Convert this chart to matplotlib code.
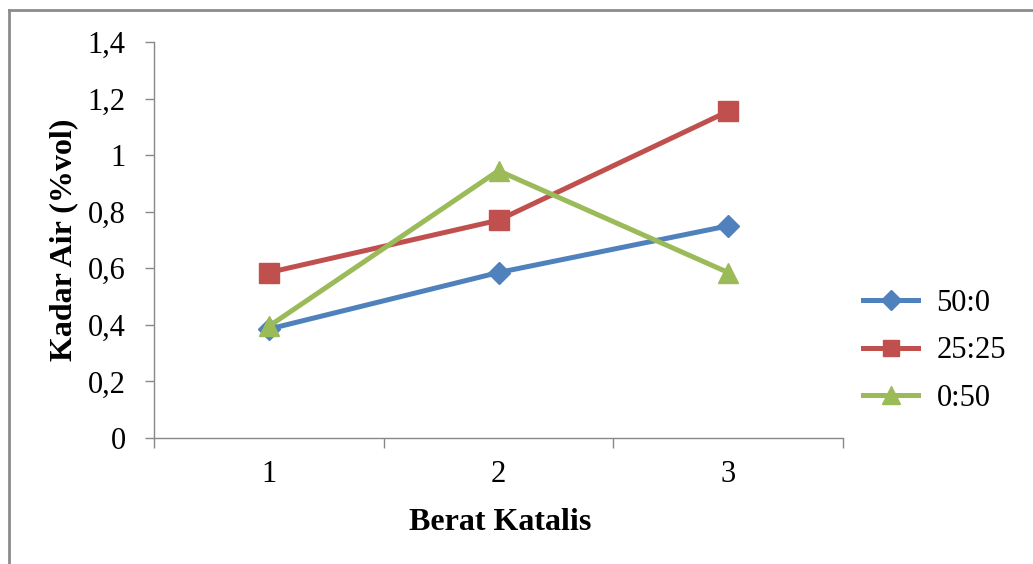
import numpy as np
import matplotlib
matplotlib.use('Agg')
import matplotlib.pyplot as plt
from matplotlib.lines import Line2D
from matplotlib.ticker import FuncFormatter, FixedLocator

plt.rcParams['font.family'] = ['Liberation Serif', 'DejaVu Serif']

# kadar air per berat katalis
katalis = ['1', '2', '3']
rasio = ['50:0', '25:25', '0:50']
air_50_0 = [0.385, 0.585, 0.75]
air_25_25 = [0.585, 0.77, 1.155]
air_0_50 = [0.395, 0.945, 0.585]

warna = ['#4F81BD', '#C0504D', '#9BBB59']
marker = ['D', 's', '^']
msize = [11.5, 14, 15]

fig = plt.figure(figsize=(10.33, 5.64), dpi=100)
ax = fig.add_axes([154/1033, 1-438/564, 689/1033, 396/564])

x = np.arange(len(katalis))
for y, lab, c, m, ms in zip([air_50_0, air_25_25, air_0_50], rasio, warna, marker, msize):
    ax.plot(x, y, color=c, lw=3.6, marker=m, ms=ms, mec=c, mfc=c, label=lab,
            clip_on=False)

ax.set_xlim(-0.5, 2.5)
ax.set_ylim(0, 1.4)
ax.set_yticks(np.arange(0, 1.41, 0.2))
ax.yaxis.set_major_formatter(FuncFormatter(lambda v, p: f'{v:.1f}'.rstrip('0').rstrip('.').replace('.', ',')))
ax.set_xticks(x)
ax.set_xticklabels(katalis)
ax.xaxis.set_minor_locator(FixedLocator([-0.5, 0.5, 1.5, 2.5]))

for s in ['top', 'right']:
    ax.spines[s].set_visible(False)
for s in ['left', 'bottom']:
    ax.spines[s].set_color('#888888')
    ax.spines[s].set_linewidth(1.0)

ax.tick_params(axis='y', direction='out', length=6.5, width=1.0, color='#888888',
               pad=14, labelsize=22)
ax.tick_params(axis='x', which='major', length=0, pad=16, labelsize=22)
ax.tick_params(axis='x', which='minor', direction='out', length=7, width=1.0,
               color='#888888')

ax.set_xlabel('Berat Katalis', fontsize=23, fontweight='bold')
ax.set_ylabel('Kadar Air (%vol)', fontsize=23, fontweight='bold')
ax.xaxis.set_label_coords(0.502, -0.178)
ax.yaxis.set_label_coords(-0.11, 0.5)

fig.legend(loc='center left', bbox_to_anchor=(848/1033, 1-351/564), frameon=False,
           fontsize=22, handlelength=1.8, handletextpad=0.6, labelspacing=0.6,
           borderpad=0, markerscale=0.85)

# bingkai luar
fig.add_artist(Line2D([9/1033, 1], [1-10/564, 1-10/564], color='#8c8c8c', lw=2))
fig.add_artist(Line2D([9/1033, 9/1033], [0, 1-10/564], color='#8c8c8c', lw=2))

fig.savefig('out.png', dpi=100)
